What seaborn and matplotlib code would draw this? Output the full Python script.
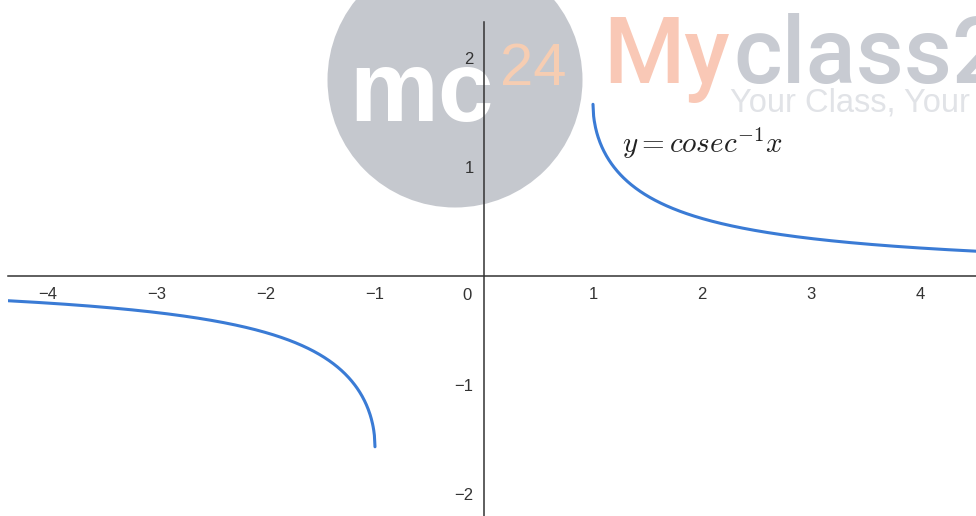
import numpy as np
import matplotlib
matplotlib.use("Agg")
import matplotlib.pyplot as plt
from matplotlib.patches import Circle
import seaborn as sns

# Domain of y = cosec^-1 x shown on each side of the gap (-1, 1)
left_domain = [-4.367, -1.0]
right_domain = [1.0, 4.514]
view_x = [-4.367, 4.514]
view_y = [-2.206, 2.326]

x_ticks = [-4, -3, -2, -1, 1, 2, 3, 4]
y_ticks = [-2, -1, 1, 2]
curve_label = r"$y = cosec^{-1}x$"

sns.set_style("white")
plt.rcParams["font.family"] = ["Liberation Sans", "DejaVu Sans"]
plt.rcParams["mathtext.fontset"] = "cm"
plt.rcParams["axes.unicode_minus"] = True

W, H = 976, 516
fig = plt.figure(figsize=(W / 100, H / 100), dpi=100)

# Background layer with the logo, in pixel units
bg = fig.add_axes([0, 0, 1, 1], zorder=0)
bg.set_xlim(0, W)
bg.set_ylim(H, 0)
bg.axis("off")
bg.add_patch(Circle((455, 80), 127.5, color="#c5c8ce", lw=0))
bg.text(349, 121, "mc", fontsize=72, fontweight="bold", color="white",
        va="baseline", ha="left")
bg.text(500, 85, "24", fontsize=43, color="#f6cdb2", va="baseline", ha="left")
brand_font = ["Roboto", "Liberation Sans", "DejaVu Sans"]
bg.text(603, 83, "My", fontsize=67, fontweight="medium", family=brand_font,
        color="#f9c8b6", va="baseline", ha="left")
bg.text(733, 83, "class2", fontsize=67, fontweight="medium", family=brand_font,
        color="#c8cbd2", va="baseline", ha="left")
bg.text(730, 112, "Your Class, Your", fontsize=23.5, color="#e1e3e7",
        va="baseline", ha="left")

# Main coordinate axes
ax = fig.add_axes([8 / W, 0, 968 / W, 494 / H], zorder=1)
ax.patch.set_alpha(0)

blue = "#3a7bd5"
for dom in (left_domain, right_domain):
    xs = np.linspace(dom[0], dom[1], 600)
    sns.lineplot(x=xs, y=np.arcsin(1 / xs), ax=ax, color=blue, linewidth=2.2,
                 sort=False, estimator=None, zorder=3)

ax.set_xlim(*view_x)
ax.set_ylim(*view_y)

for side in ("top", "right"):
    ax.spines[side].set_visible(False)
for side in ("left", "bottom"):
    ax.spines[side].set_position(("data", 0))
    ax.spines[side].set_color("#333333")
    ax.spines[side].set_linewidth(1.1)
    ax.spines[side].set_zorder(2)

ax.set_xticks(x_ticks)
ax.set_xticklabels([f"{t}".replace("-", "\u2212") for t in x_ticks])
ax.set_yticks(y_ticks)
ax.set_yticklabels([f"{t}".replace("-", "\u2212") for t in y_ticks])
ax.tick_params(axis="x", direction="out", length=3.5, width=1, color="#333333",
               labelsize=12, labelcolor="#333333", pad=4.5)
ax.tick_params(axis="y", direction="out", length=3.5, width=1, color="#333333",
               labelsize=12, labelcolor="#333333", pad=4)
ax.set_xlabel("")
ax.set_ylabel("")

ax.annotate("0", xy=(0, 0), xytext=(-17, -12), textcoords="offset pixels",
            ha="center", va="top", fontsize=12, color="#333333")

ax.text(1.266, 1.124, curve_label, fontsize=21, color="#222222",
        va="baseline", ha="left")

fig.savefig("out.png", dpi=100)
